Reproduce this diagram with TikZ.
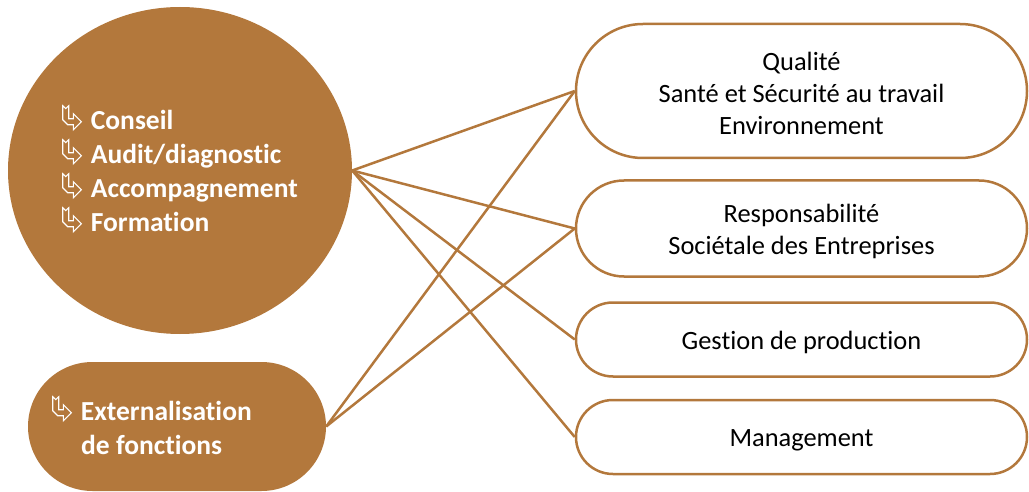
\documentclass[tikz,border=0pt]{standalone}
\usepackage{fontspec}
\setmainfont{Carlito}[Ligatures=NoCommon]
\usetikzlibrary{shapes.geometric,shapes.misc}
\definecolor{brun}{HTML}{B3783C}
\newcommand{\arrowbul}{\tikz[baseline=0pt,x=1pt,y=1pt]\draw[white,line width=1.1pt,line join=miter] (1,24) -- (4,21.2) -- (7,24) -- (7,11) -- (11.6,11) -- (11.6,16) -- (19.6,8) -- (11.6,0) -- (11.6,5) -- (6,5) -- (1,10) -- cycle;\hspace{9pt}}
\tikzset{
  brunfill/.style={fill=brun,draw=none},
  pillbox/.style={rounded rectangle,draw=brun,line width=2.5pt,minimum width=451pt,inner sep=0pt},
  boxtext/.style={inner sep=0pt,align=center,font=\fontsize{26.4}{32}\selectfont},
  link/.style={draw=brun,line width=2.5pt},
  lefttext/.style={anchor=north west,inner sep=0pt,align=left,text=white,font=\fontsize{27.5}{34}\selectfont\bfseries}
}
\begin{document}
\begin{tikzpicture}[x=1pt,y=-1pt]
\useasboundingbox (0,0) rectangle (1029,492);
\node[ellipse,brunfill,minimum width=344pt,minimum height=327pt,inner sep=0pt] (c) at (180,170.5) {};
\node[rounded rectangle,brunfill,minimum width=298pt,minimum height=129pt,inner sep=0pt] (p) at (177,426.5) {};
\node[lefttext] (ct) at (62,105) {\arrowbul Conseil\\\arrowbul Audit/diagnostic\\\arrowbul Accompagnement\\\arrowbul Formation};
\node[lefttext] (pt) at (52,396) {\arrowbul Externalisation\\\hspace*{29pt}de fonctions};
\node[pillbox,minimum height=134pt] (b1) at (801.5,91) {};
\node[pillbox,minimum height=96pt] (b2) at (801.5,228.5) {};
\node[pillbox,minimum height=74pt] (b3) at (801.5,339.5) {};
\node[pillbox,minimum height=74pt] (b4) at (801.5,437) {};
\node[boxtext] (t1) at ([yshift=-2pt]b1.center) {Qualité\\Santé et Sécurité au travail\\Environnement};
\node[boxtext] (t2) at ([yshift=-3pt]b2.center) {Responsabilité\\Sociétale des Entreprises};
\node[boxtext] (t3) at ([yshift=-3pt]b3.center) {Gestion de production};
\node[boxtext] (t4) at ([yshift=-3pt]b4.center) {Management};
\draw[link] (c.east) -- (b1.west);
\draw[link] (c.east) -- (b2.west);
\draw[link] (c.east) -- (b3.west);
\draw[link] (c.east) -- (b4.west);
\draw[link] (p.east) -- (b1.west);
\draw[link] (p.east) -- (b2.west);
\end{tikzpicture}
\end{document}
